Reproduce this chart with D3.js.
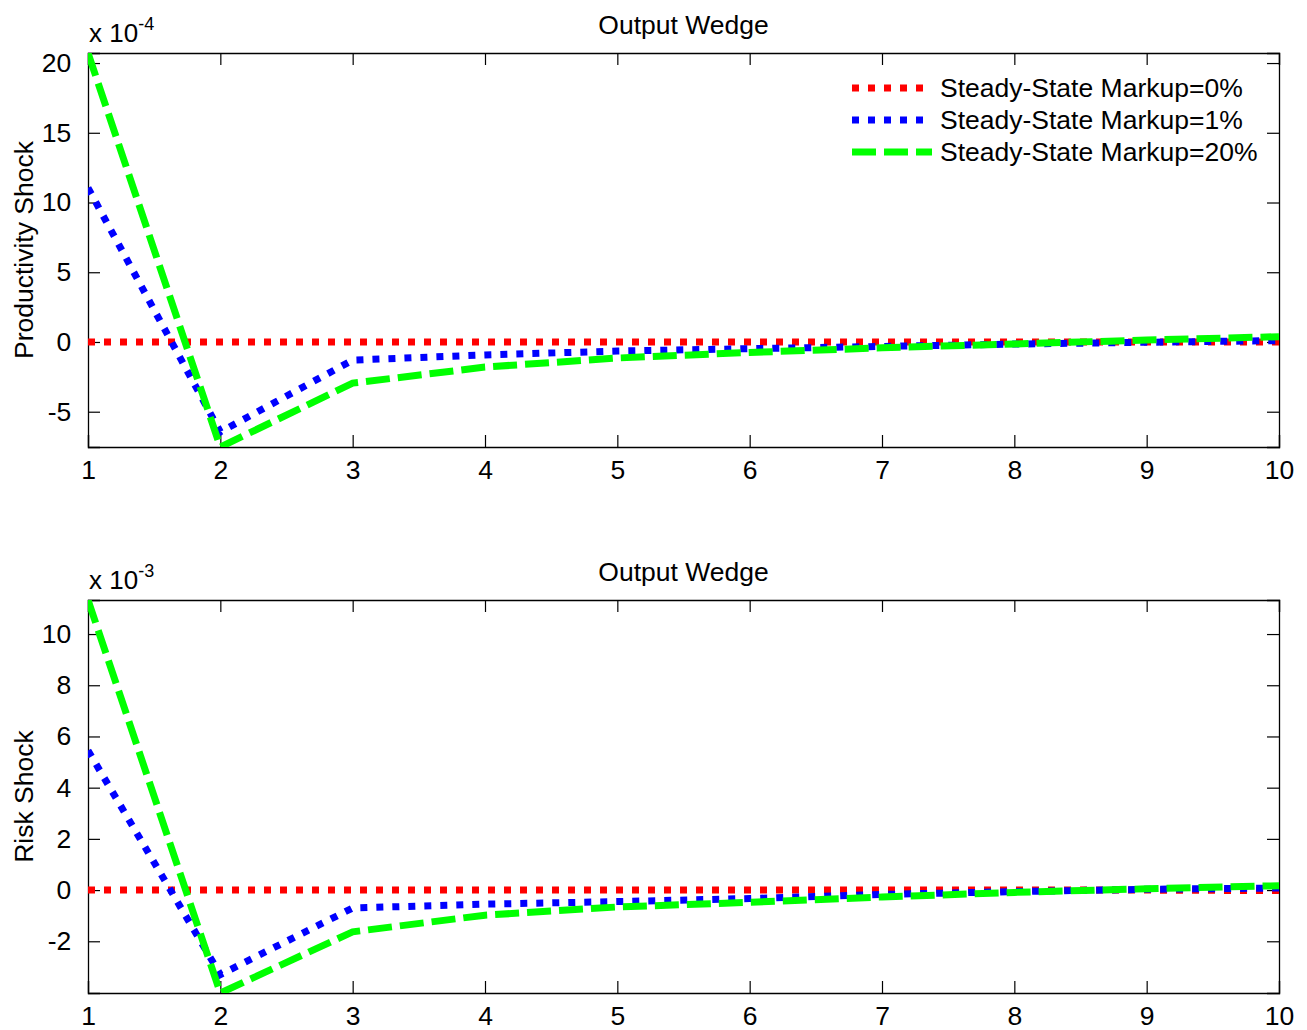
<!DOCTYPE html>
<html><head><meta charset="utf-8">
<script src="https://cdn.jsdelivr.net/npm/d3@7"></script>
<style>body{margin:0;background:#fff}svg{display:block}text{font-family:"Liberation Sans",Arial,sans-serif;fill:#000}</style>
</head><body>
<script>
const periods = [1,2,3,4,5,6,7,8,9,10];
const xTicks = [1,2,3,4,5,6,7,8,9,10];
const seriesNames = ["Steady-State Markup=0%","Steady-State Markup=1%","Steady-State Markup=20%"];
const prodRed   = [0,0,0,0,0,0,0,0,0,0];
const prodBlue  = [11.05,-6.45,-1.3,-0.93,-0.65,-0.48,-0.32,-0.15,-0.02,0.1];
const prodGreen = [20.72,-7.53,-2.95,-1.8,-1.15,-0.75,-0.42,-0.14,0.14,0.38];
const riskRed   = [0,0,0,0,0,0,0,0,0,-0.02];
const riskBlue  = [5.45,-3.3,-0.7,-0.55,-0.45,-0.33,-0.17,-0.06,0.03,0.08];
const riskGreen = [11.33,-4.02,-1.63,-0.98,-0.66,-0.48,-0.27,-0.09,0.05,0.17];
const prodYTicks = [-5,0,5,10,15,20];
const riskYTicks = [-2,0,2,4,6,8,10];

const W=1307,H=1030;
const svg=d3.select("body").append("svg").attr("width",W).attr("height",H);
const styles=[
  {color:"#ff0000",dash:"7,9",w:7},
  {color:"#0000ff",dash:"7,9",w:7},
  {color:"#00ff00",dash:"24,8",w:7}
];
const L=88,R=1279;
const fmt=d=>String(d);

function panel(id,top,bottom,series,yTicks,exp,ylabel,legend){
  const x=d3.scaleLinear().domain([1,10]).range([L,R]);
  const all=[].concat(...series);
  const y=d3.scaleLinear().domain(d3.extent(all)).range([bottom,top]);
  const g=svg.append("g");
  g.append("clipPath").attr("id","clip"+id).append("rect")
    .attr("x",L).attr("y",top).attr("width",R-L).attr("height",bottom-top);
  const tl=12;
  const ax=d3.axisBottom(x).tickValues(xTicks).tickSize(-tl).tickPadding(13).tickFormat(fmt);
  const gx=g.append("g").attr("transform",`translate(0,${bottom})`).call(ax);
  const gxt=g.append("g").attr("transform",`translate(0,${top})`).call(d3.axisTop(x).tickValues(xTicks).tickSize(-tl).tickFormat(""));
  const ay=d3.axisLeft(y).tickValues(yTicks).tickSize(-tl).tickPadding(22).tickFormat(fmt);
  const gy=g.append("g").attr("transform",`translate(${L},0)`).call(ay);
  const gyr=g.append("g").attr("transform",`translate(${R},0)`).call(d3.axisRight(y).tickValues(yTicks).tickSize(-tl).tickFormat(""));
  [gx,gxt,gy,gyr].forEach(a=>{
    a.select(".domain").attr("stroke","#000").attr("stroke-width",1.3);
    a.selectAll(".tick line").attr("stroke","#000").attr("stroke-width",1.2);
    a.selectAll("text").attr("font-size",26.5).attr("fill","#000").attr("font-family","Liberation Sans,Arial,sans-serif");
  });
  gx.selectAll(".tick text").attr("dy","0.72em");
  gy.selectAll(".tick text").attr("dx","0.2em");
  const line=d3.line().x((d,i)=>x(periods[i])).y(d=>y(d));
  const lg=g.append("g").attr("clip-path",`url(#clip${id})`);
  series.forEach((s,i)=>{
    lg.append("path").datum(s).attr("d",line).attr("fill","none")
      .attr("stroke",styles[i].color).attr("stroke-width",styles[i].w)
      .attr("stroke-dasharray",styles[i].dash).attr("stroke-linejoin","miter");
  });
  g.append("text").attr("x",(L+R)/2).attr("y",top-19).attr("text-anchor","middle").attr("font-size",26.5).text("Output Wedge");
  const et=g.append("text").attr("x",89).attr("y",top-11).attr("font-size",26);
  et.append("tspan").text("x 10");
  et.append("tspan").attr("dy",-12).attr("font-size",18).text(exp);
  g.append("text").attr("transform",`translate(33,${(top+bottom)/2}) rotate(-90)`).attr("text-anchor","middle").attr("font-size",26.5).text(ylabel);
  if(legend){
    const lx=852, ly=[88,120,152];
    seriesNames.forEach((n,i)=>{
      g.append("line").attr("x1",lx).attr("x2",i==2?932:925).attr("y1",ly[i]).attr("y2",ly[i])
        .attr("stroke",styles[i].color).attr("stroke-width",styles[i].w).attr("stroke-dasharray",styles[i].dash);
      g.append("text").attr("x",940).attr("y",ly[i]+9).attr("font-size",26.5).text(n);
    });
  }
}
panel("a",53,447,[prodRed,prodBlue,prodGreen],prodYTicks,"-4","Productivity Shock",true);
panel("b",600,993,[riskRed,riskBlue,riskGreen],riskYTicks,"-3","Risk Shock",false);
</script>
</body></html>
